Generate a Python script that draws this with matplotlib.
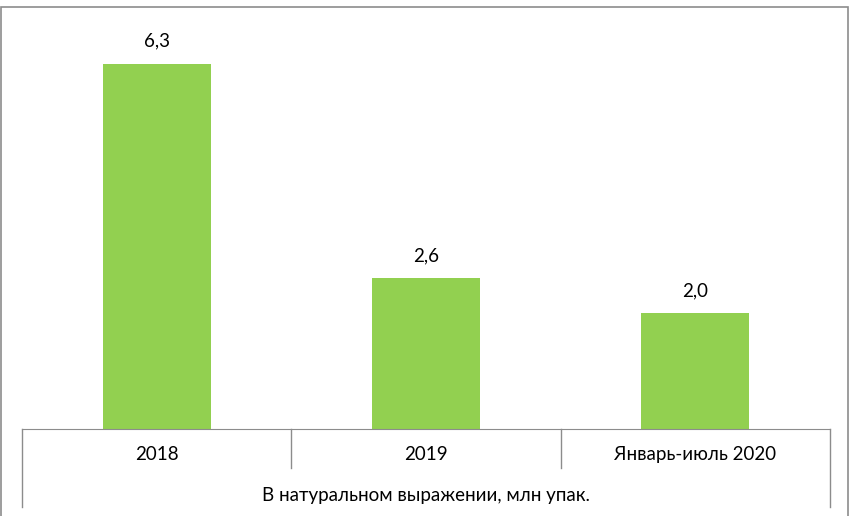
import matplotlib.pyplot as plt
from matplotlib.patches import Rectangle
from matplotlib.transforms import blended_transform_factory

categories = ['2018', '2019', 'Январь-июль 2020']
values = [6.3, 2.6, 2.0]
group_label = 'В натуральном выражении, млн упак.'

plt.rcParams['font.family'] = ['Lato', 'DejaVu Sans']

W, H = 852, 516
fig = plt.figure(figsize=(W / 100, H / 100), dpi=100)

# outer frame of the chart
fig.patches.append(Rectangle((1 / W, -0.01), 847 / W, 1 - 1.5 / H, transform=fig.transFigure,
                             fill=False, edgecolor='#8c8c8c', linewidth=1.2))

ax = fig.add_axes([22 / W, (H - 429) / H, 808 / W, 406 / H])
x = list(range(len(categories)))
bars = ax.bar(x, values, width=0.4, color='#92D050')
ax.set_xlim(-0.5, len(categories) - 0.5)
ax.set_ylim(0, 7)

for b, v in zip(bars, values):
    ax.annotate(f'{v:.1f}'.replace('.', ','), (b.get_x() + b.get_width() / 2, v),
                xytext=(0, 10), textcoords='offset points', ha='center', va='bottom', fontsize=13.5)

for s in ['top', 'left', 'right']:
    ax.spines[s].set_visible(False)
ax.spines['bottom'].set_color('#8c8c8c')
ax.set_yticks([])
ax.set_xticks([])

tr = blended_transform_factory(ax.transData, ax.transAxes)
for i, c in enumerate(categories):
    ax.text(i, -0.064, c, transform=tr, ha='center', va='center', fontsize=13.5)
    edge = i - 0.5
    ln = 0.192 if i == 0 else 0.096
    ax.plot([edge, edge], [0, -ln], transform=tr, color='#8c8c8c', lw=1, clip_on=False)
ax.plot([len(categories) - 0.5] * 2, [0, -0.192], transform=tr, color='#8c8c8c', lw=1, clip_on=False)
ax.text(1, -0.165, group_label, transform=tr, ha='center', va='center', fontsize=13.5)

fig.savefig('out.png', dpi=100)
